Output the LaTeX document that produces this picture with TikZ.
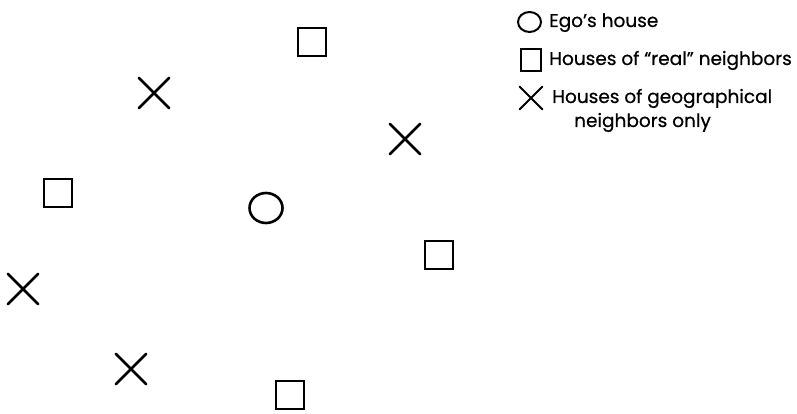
\documentclass[tikz,border=0pt]{standalone}
\usepackage{fontspec}
\setmainfont{Poppins}
\usetikzlibrary{shapes.geometric,shapes.misc}
\tikzset{
  realhouse/.style={draw, rectangle, line width=2.6pt, minimum size=28pt, inner sep=0pt},
  egohouse/.style={draw, ellipse, line width=2.6pt, minimum width=33pt, minimum height=30pt, inner sep=0pt},
  geohouse/.style={draw, cross out, line width=2.6pt, line cap=round, minimum size=28pt, inner sep=0pt},
  legsquare/.style={realhouse, line width=2pt, minimum width=20pt, minimum height=22pt},
  legcircle/.style={egohouse, line width=2pt, minimum width=23pt, minimum height=20pt},
  legcross/.style={geohouse, line width=2pt, minimum size=21pt},
  legtext/.style={anchor=base west, inner sep=0pt, font=\fontsize{18.5}{22}\selectfont\addfontfeature{FakeBold=0.6}}
}
\begin{document}
\begin{tikzpicture}[x=1pt, y=-1pt]
\useasboundingbox (0,0) rectangle (797,414);
% houses
\node[realhouse] (s1) at (312,42) {};
\node[realhouse] (s2) at (58,193) {};
\node[realhouse] (s3) at (439,255) {};
\node[realhouse] (s4) at (290,395) {};
\node[egohouse] (ego) at (266,208) {};
\node[geohouse] (x1) at (154,93) {};
\node[geohouse] (x2) at (405,139) {};
\node[geohouse] (x3) at (23,289) {};
\node[geohouse] (x4) at (131,369) {};
% legend
\node[legcircle] (lc) at (529.5,22) {};
\node[legtext] (lt1) at (549,27) {Ego’s house};
\node[legsquare] (ls) at (531,60) {};
\node[legtext] (lt2) at (549,65) {Houses of “real” neighbors};
\node[legcross] (lx) at (531,98) {};
\node[legtext] (lt3) at (552,103) {Houses of geographical};
\node[legtext] (lt4) at (574,127) {neighbors only};
\end{tikzpicture}
\end{document}
